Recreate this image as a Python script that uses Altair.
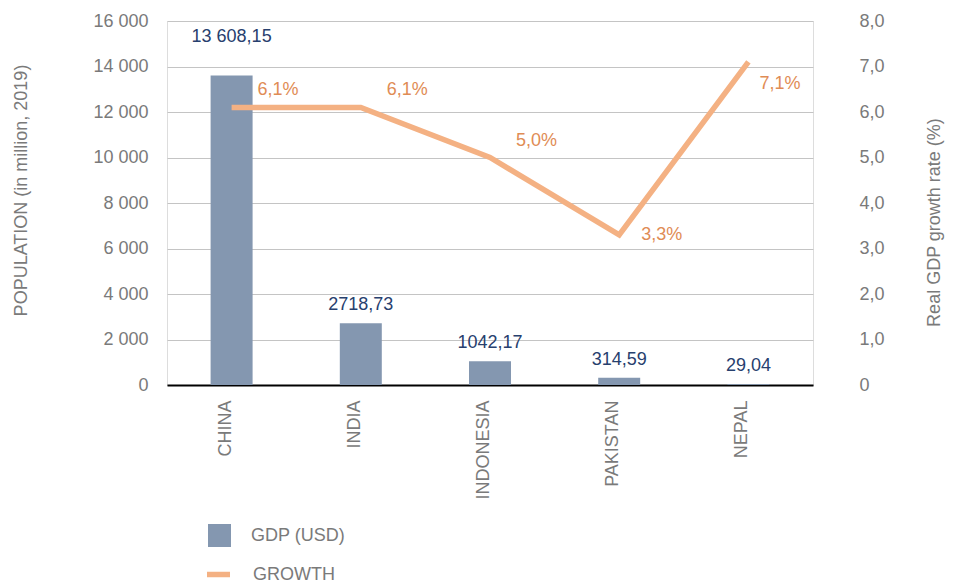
import altair as alt
import pandas as pd

countries = ["CHINA", "INDIA", "INDONESIA", "PAKISTAN", "NEPAL"]
gdp = [13608.15, 2718.73, 1042.17, 314.59, 29.04]
growth = [6.1, 6.1, 5.0, 3.3, 7.1]
left_ticks = [0, 2000, 4000, 6000, 8000, 10000, 12000, 14000, 16000]
right_ticks = [0, 1, 2, 3, 4, 5, 6, 7, 8]


def fmt_gdp(v):
    s = f"{v:.2f}".replace(".", ",")
    if v >= 10000:
        whole, dec = s.split(",")
        s = whole[:-3] + " " + whole[-3:] + "," + dec
    return s


df = pd.DataFrame({
    "country": countries,
    "gdp": gdp,
    "growth": growth,
    "gdp_label": [fmt_gdp(v) for v in gdp],
    "growth_label": [f"{g:.1f}".replace(".", ",") + "%" for g in growth],
    "bar_series": ["GDP (USD)"] * len(countries),
    "line_series": ["GROWTH"] * len(countries),
})

BAR = "#8497b0"
LINE = "#f4b183"
GRAY = "#7a7a7a"
FONT = "Liberation Sans"
BAR_LABEL = "#27406e"
LINE_LABEL = "#df8c55"

x_enc = alt.X(
    "country:N", sort=countries, title=None,
    scale=alt.Scale(paddingInner=0.675, paddingOuter=0.3375),
    axis=alt.Axis(labelAngle=270, labelAlign="right", labelBaseline="alphabetic",
                  labelPadding=15, labelOffset=-1, ticks=False, domainColor="#000000",
                  domainWidth=2, labelFontSize=18, labelColor=GRAY, labelFont=FONT, grid=False),
)

left_axis = alt.Axis(
    values=left_ticks, title="POPULATION (in million, 2019)", grid=True, gridColor="#c4c4c4",
    gridWidth=1, ticks=False, domain=False, labelPadding=19, labelFontSize=18,
    labelColor=GRAY, labelFont=FONT,
    labelExpr="replace(format(datum.value, ','), ',', ' ')",
    titleFontSize=18, titleFont=FONT, titleColor=GRAY, titleFontWeight="normal",
    titleAngle=270, titleAlign="center", titleBaseline="middle", titleX=-146, titleY=169,
)

right_axis = alt.Axis(
    values=right_ticks, orient="right", title="Real GDP growth rate (%)", grid=False,
    ticks=False, domain=False, labelPadding=46, labelFontSize=18, labelColor=GRAY,
    labelFont=FONT, labelAlign="left",
    labelExpr="datum.value == 0 ? '0' : replace(format(datum.value, '.1f'), '.', ',')",
    titleFontSize=18, titleFont=FONT, titleColor=GRAY, titleFontWeight="normal",
    titleAngle=270, titleAlign="center", titleBaseline="middle", titleX=121, titleY=201,
)

left_base = alt.Chart(df).encode(
    x=x_enc,
    y=alt.Y("gdp:Q", scale=alt.Scale(domain=[0, 16000], nice=False), axis=left_axis),
)

bars = left_base.mark_bar().encode(
    fill=alt.Fill("bar_series:N", scale=alt.Scale(domain=["GDP (USD)"], range=[BAR]),
                  legend=alt.Legend(title=None, orient="none", legendX=41, legendY=503,
                                    symbolType="square", symbolSize=529, symbolStrokeWidth=0,
                                    labelFontSize=18, labelColor=GRAY, labelFont=FONT,
                                    labelOffset=20, padding=0)),
)

bar_text = left_base.mark_text(baseline="middle", dy=-18, fontSize=18, font=FONT,
                               color=BAR_LABEL).encode(text="gdp_label:N").transform_filter(
    "datum.country != 'CHINA'")
bar_text_top = left_base.mark_text(baseline="middle", dy=-38, fontSize=18, font=FONT,
                                   color=BAR_LABEL).encode(text="gdp_label:N").transform_filter(
    "datum.country == 'CHINA'")

right_base = alt.Chart(df).encode(
    x=x_enc,
    y=alt.Y("growth:Q", scale=alt.Scale(domain=[0, 8], nice=False), axis=right_axis),
)

line = right_base.mark_line(strokeWidth=5.5).encode(
    stroke=alt.Stroke("line_series:N", scale=alt.Scale(domain=["GROWTH"], range=[LINE]),
                      legend=alt.Legend(title=None, orient="none", legendX=37, legendY=539,
                                        symbolType="stroke", symbolSize=529,
                                        symbolStrokeWidth=5.5, labelFontSize=18,
                                        labelColor=GRAY, labelFont=FONT, labelOffset=20,
                                        padding=0)),
)

text_style = dict(align="left", baseline="middle", fontSize=18, font=FONT, color=LINE_LABEL)
line_text_above = right_base.mark_text(dx=26, dy=-17, **text_style).encode(
    text="growth_label:N").transform_filter(
    "datum.country != 'PAKISTAN' && datum.country != 'NEPAL'")
line_text_side = right_base.mark_text(dx=22, dy=0, **text_style).encode(
    text="growth_label:N").transform_filter("datum.country == 'PAKISTAN'")
line_text_below = right_base.mark_text(dx=11, dy=22, **text_style).encode(
    text="growth_label:N").transform_filter("datum.country == 'NEPAL'")

chart = alt.layer(
    alt.layer(bars, bar_text, bar_text_top),
    alt.layer(line, line_text_above, line_text_side, line_text_below),
).resolve_scale(y="independent", fill="independent", stroke="independent").properties(
    width=646, height=364,
    autosize=alt.AutoSizeParams(type="none"),
    padding={"left": 159, "top": 13, "right": 132, "bottom": 200},
).configure_view(stroke=None).configure(background="white")

chart.save("out.html", embed_options={"renderer": "svg", "actions": False})
